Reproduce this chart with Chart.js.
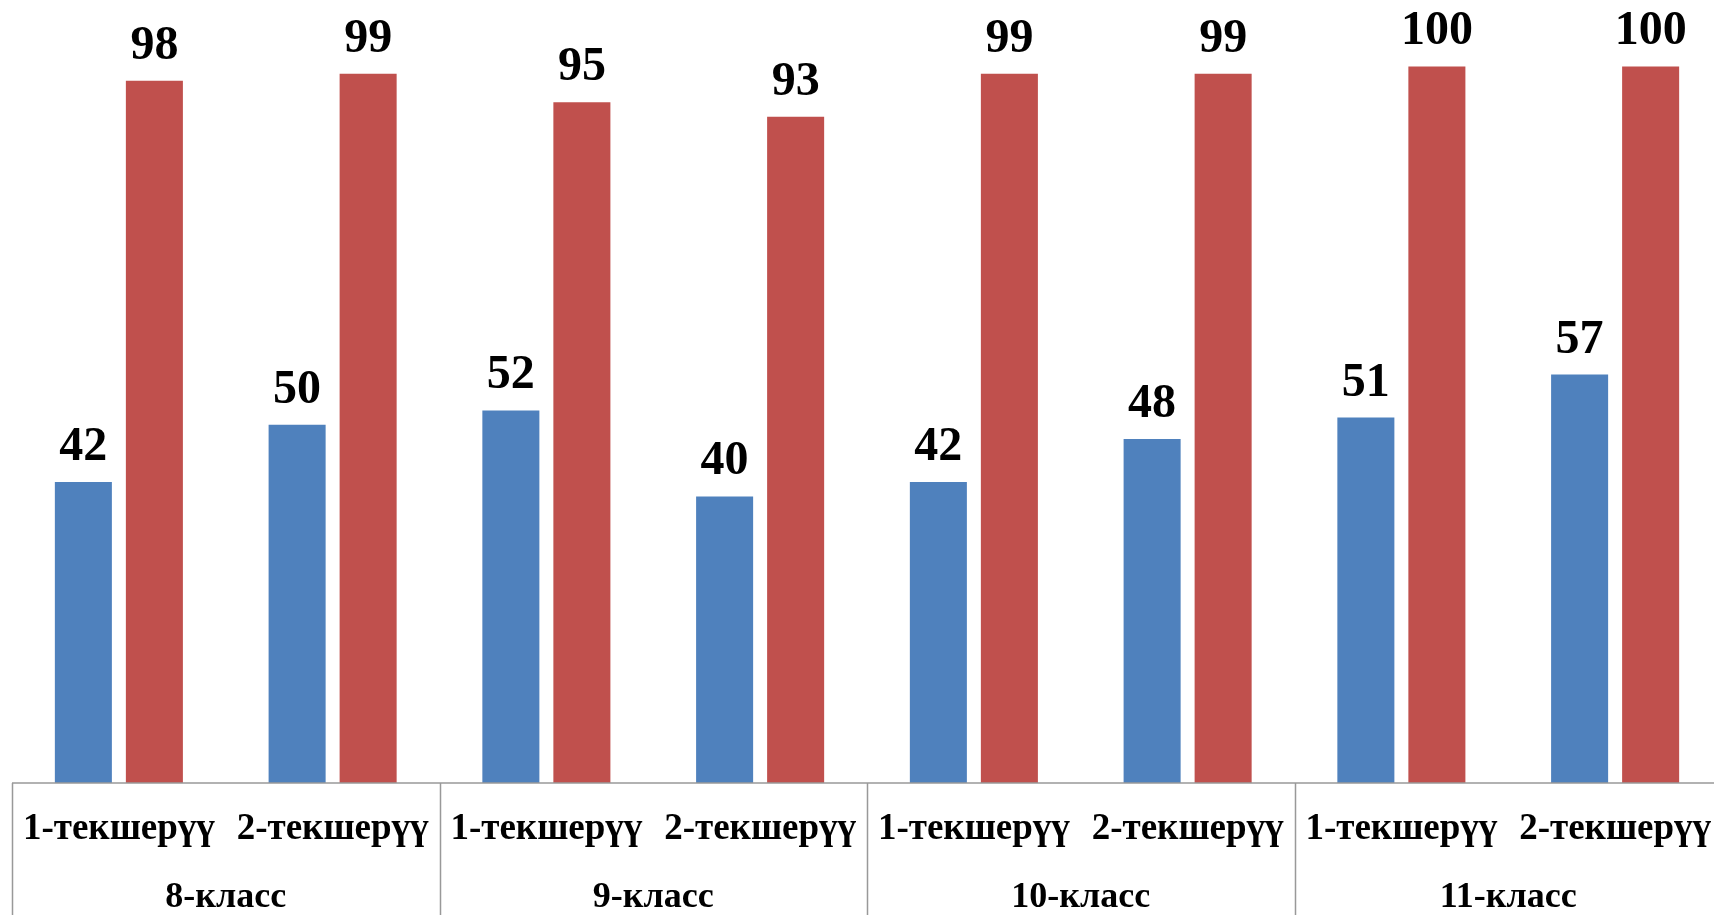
<!DOCTYPE html>
<html>
<head>
<meta charset="utf-8">
<script src="https://cdn.jsdelivr.net/npm/chart.js@4.4.1/dist/chart.umd.min.js"></script>
<style>
  html, body { margin: 0; padding: 0; background: #fff; overflow: hidden; }
  /* the plot runs a little past the right edge of the window, as in the source */
  #wrap { width: 1722px; height: 915px; }
</style>
</head>
<body>
<div id="wrap"><canvas id="chart"></canvas></div>
<script>
const checks = ['1-текшерүү', '2-текшерүү', '1-текшерүү', '2-текшерүү', '1-текшерүү', '2-текшерүү', '1-текшерүү', '2-текшерүү'];
const classes = ['8-класс', '9-класс', '10-класс', '11-класс'];
const blueValues = [42, 50, 52, 40, 42, 48, 51, 57];
const redValues = [98, 99, 95, 93, 99, 99, 100, 100];

const serif = '"Liberation Serif", "Times New Roman", serif';

// value labels above each bar
const valueLabels = {
  id: 'valueLabels',
  afterDatasetsDraw(chart) {
    const ctx = chart.ctx;
    ctx.save();
    ctx.font = 'bold 48px ' + serif;
    ctx.fillStyle = '#000';
    ctx.textAlign = 'center';
    ctx.textBaseline = 'alphabetic';
    chart.data.datasets.forEach((ds, i) => {
      chart.getDatasetMeta(i).data.forEach((bar, j) => {
        ctx.fillText(ds.data[j], bar.x, bar.y - 22);
      });
    });
    ctx.restore();
  }
};

// class row + separators under the axis
const groupAxis = {
  id: 'groupAxis',
  afterDraw(chart) {
    const ctx = chart.ctx;
    const x = chart.scales.x;
    const half = (x.getPixelForValue(1) - x.getPixelForValue(0)) / 2;
    const top = chart.chartArea.bottom;
    const bottom = chart.height;
    ctx.save();
    ctx.strokeStyle = '#999';
    ctx.lineWidth = 1.5;
    ctx.beginPath();
    ctx.moveTo(chart.chartArea.left, top);
    ctx.lineTo(chart.width, top);
    for (let g = 0; g <= classes.length; g++) {
      const px = Math.round(x.getPixelForValue(g * 2) - half) + 0.5;
      ctx.moveTo(px, top);
      ctx.lineTo(px, bottom);
    }
    ctx.stroke();

    ctx.font = 'bold 36px ' + serif;
    ctx.fillStyle = '#000';
    ctx.textAlign = 'center';
    ctx.textBaseline = 'alphabetic';
    classes.forEach((c, g) => {
      const cx = (x.getPixelForValue(g * 2) + x.getPixelForValue(g * 2 + 1)) / 2;
      ctx.fillText(c, cx, 907);
    });
    ctx.restore();
  }
};

new Chart(document.getElementById('chart'), {
  type: 'bar',
  plugins: [valueLabels, groupAxis],
  data: {
    labels: checks,
    datasets: [
      { label: 'Ряд 1', data: blueValues, backgroundColor: '#4F81BD', barPercentage: 0.803, categoryPercentage: 0.6645 },
      { label: 'Ряд 2', data: redValues, backgroundColor: '#C0504D', barPercentage: 0.803, categoryPercentage: 0.6645 }
    ]
  },
  options: {
    responsive: true,
    maintainAspectRatio: false,
    animation: false,
    layout: { padding: { left: 12, right: 0, top: 2, bottom: 0 } },
    plugins: {
      legend: { display: false },
      tooltip: { enabled: false }
    },
    scales: {
      x: {
        // tick marks are hidden; tickLength only pushes the labels down
        grid: { display: false, drawTicks: true, tickLength: 24 },
        border: { display: false },
        ticks: {
          autoSkip: false,
          maxRotation: 0,
          padding: 0,
          color: '#000',
          font: { family: serif, size: 37, weight: 'bold' }
        },
        afterFit(scale) { scale.height = 132; }
      },
      y: {
        display: false,
        min: 0,
        max: 109
      }
    }
  }
});
</script>
</body>
</html>
